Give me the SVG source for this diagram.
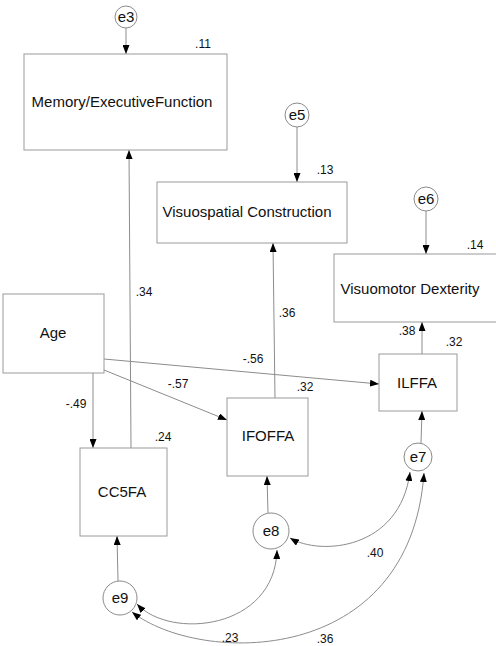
<svg xmlns="http://www.w3.org/2000/svg" width="496" height="646" viewBox="0 0 496 646">
<style>
.box{fill:#fff;stroke:#9a9a9a;stroke-width:1}
.err{fill:#fff;stroke:#8a8a8a;stroke-width:1}
.lbl{font-family:"Liberation Sans",Arial,sans-serif;font-size:15px;fill:#111;text-anchor:middle}
.num{font-family:"Liberation Sans",Arial,sans-serif;font-size:12px;fill:#111;text-anchor:middle}
.ln{fill:none;stroke:#8c8c8c;stroke-width:1}
</style>
<defs>
<marker id="ah" viewBox="0 0 9 7" refX="9" refY="3.5" markerWidth="9" markerHeight="7" markerUnits="userSpaceOnUse" orient="auto-start-reverse">
<path d="M0,0 L9,3.5 L0,7 z" fill="#000"/>
</marker>
</defs>
<rect width="496" height="646" fill="#fff"/>
<g id="connectors">
<line class="ln" x1="126" y1="28" x2="126" y2="54" marker-end="url(#ah)"/>
<line class="ln" x1="131" y1="448" x2="129" y2="150" marker-end="url(#ah)"/>
<line class="ln" x1="297" y1="127" x2="297" y2="182" marker-end="url(#ah)"/>
<line class="ln" x1="275" y1="398" x2="273" y2="243" marker-end="url(#ah)"/>
<line class="ln" x1="426" y1="211" x2="426" y2="254" marker-end="url(#ah)"/>
<line class="ln" x1="422" y1="354" x2="422" y2="322" marker-end="url(#ah)"/>
<line class="ln" x1="93" y1="373" x2="93" y2="448" marker-end="url(#ah)"/>
<line class="ln" x1="104" y1="370" x2="227" y2="420" marker-end="url(#ah)"/>
<line class="ln" x1="104" y1="359" x2="379" y2="384" marker-end="url(#ah)"/>
<line class="ln" x1="421" y1="443" x2="422" y2="411" marker-end="url(#ah)"/>
<line class="ln" x1="268" y1="513" x2="267" y2="476" marker-end="url(#ah)"/>
<line class="ln" x1="118" y1="581" x2="117" y2="536" marker-end="url(#ah)"/>
<path class="ln" d="M290,538 C320,556 400,550 410,472" marker-start="url(#ah)" marker-end="url(#ah)"/>
<path class="ln" d="M137,604 C170,640 275,630 277,550" marker-start="url(#ah)" marker-end="url(#ah)"/>
<path class="ln" d="M132,612 C200,665 410,668 424,473" marker-start="url(#ah)" marker-end="url(#ah)"/>
</g>
<g id="e3"><circle class="err" cx="126" cy="17" r="11"/><text class="lbl" x="126" y="22">e3</text></g>
<g id="memory"><rect class="box" x="24" y="54" width="203" height="96"/><text class="lbl" x="122" y="107">Memory/ExecutiveFunction</text><text class="num" x="203" y="48">.11</text></g>
<g id="e5"><circle class="err" cx="297" cy="115" r="12"/><text class="lbl" x="297" y="120">e5</text></g>
<g id="visuospatial"><rect class="box" x="157" y="182" width="190" height="61"/><text class="lbl" x="247" y="217">Visuospatial Construction</text><text class="num" x="325" y="174">.13</text></g>
<g id="e6"><circle class="err" cx="426" cy="199" r="12"/><text class="lbl" x="426" y="204">e6</text></g>
<g id="visuomotor"><rect class="box" x="334" y="254" width="170" height="68"/><text class="lbl" x="410" y="294">Visuomotor Dexterity</text><text class="num" x="475" y="249">.14</text></g>
<g id="age"><rect class="box" x="3" y="294" width="101" height="79"/><text class="lbl" x="53" y="338">Age</text></g>
<g id="ilffa"><rect class="box" x="379" y="354" width="78" height="57"/><text class="lbl" x="417" y="388">ILFFA</text><text class="num" x="454" y="346">.32</text></g>
<g id="ifoffa"><rect class="box" x="227" y="398" width="81" height="78"/><text class="lbl" x="268" y="441">IFOFFA</text><text class="num" x="305" y="391">.32</text></g>
<g id="cc5fa"><rect class="box" x="80" y="448" width="87" height="88"/><text class="lbl" x="122" y="497">CC5FA</text><text class="num" x="163" y="441">.24</text></g>
<g id="e7"><circle class="err" cx="418" cy="457" r="14"/><text class="lbl" x="418" y="462">e7</text></g>
<g id="e8"><circle class="err" cx="271" cy="531" r="18"/><text class="lbl" x="271" y="536">e8</text></g>
<g id="e9"><circle class="err" cx="120" cy="598" r="17"/><text class="lbl" x="120" y="603">e9</text></g>
<g id="labels">
<text class="num" x="144" y="296">.34</text>
<text class="num" x="287" y="317">.36</text>
<text class="num" x="407" y="335">.38</text>
<text class="num" x="253" y="363">-.56</text>
<text class="num" x="178" y="388">-.57</text>
<text class="num" x="76" y="408">-.49</text>
<text class="num" x="375" y="557">.40</text>
<text class="num" x="230" y="642">.23</text>
<text class="num" x="325" y="643">.36</text>
</g>
</svg>
